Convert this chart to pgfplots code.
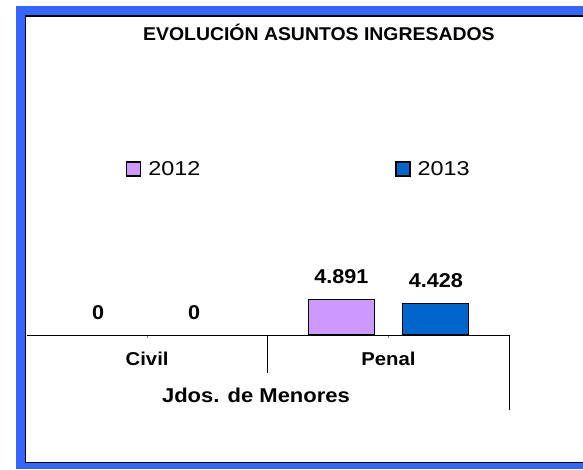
\documentclass[border=0pt]{standalone}
\usepackage{pgfplots}
\pgfplotsset{compat=1.18}
\usepackage{fontspec}
\setmainfont{Liberation Sans}
\newfontfamily\titlef[FakeStretch=1.05]{Liberation Sans}
\newfontfamily\legf[FakeStretch=1.17]{Liberation Sans}
\newfontfamily\labf[FakeStretch=1.08]{Liberation Sans}
\newfontfamily\catf[FakeStretch=1.09]{Liberation Sans}
\newfontfamily\grpf[FakeStretch=1.10]{Liberation Sans}
\definecolor{lilac}{HTML}{CC99FF}
\definecolor{barblue}{HTML}{0066CC}
\definecolor{frameblue}{HTML}{3366FF}
\begin{document}
\begin{tikzpicture}[x=1pt,y=1pt]
\path[use as bounding box] (0,0) rectangle (583,469);
\clip (0,0) rectangle (583,469);
\fill[frameblue] (16,0) rectangle (620,462.5);
\draw[fill=white, line width=1.3pt] (25.6,6.5) rectangle (640,453);
\begin{axis}[
  at={(26.5pt,134pt)}, anchor=south west,
  scale only axis, width=482.5pt, height=288pt,
  xmin=-0.5, xmax=1.5, ymin=0, ymax=40000,
  hide y axis, axis x line*=bottom,
  axis line style={line width=1pt, black},
  xtick={0,1}, xticklabels={Civil,Penal},
  tick align=inside, major tick length=3pt,
  xtick style={gray, line width=0.8pt},
  x tick label style={font=\catf\bfseries\fontsize{18.6}{20}\selectfont, anchor=base, yshift=-27pt},
  xlabel={Jdos. de Menores},
  xlabel style={at={(axis description cs:0.4756,0)}, anchor=base, yshift=-67pt, font=\grpf\bfseries\fontsize{20}{22}\selectfont},
  title={EVOLUCIÓN ASUNTOS INGRESADOS},
  title style={at={(axis description cs:0.606,1)}, anchor=base, yshift=1pt, font=\titlef\bfseries\fontsize{18.5}{20}\selectfont},
  ybar, bar width=66pt,
  nodes near coords,
  nodes near coords style={font=\labf\bfseries\fontsize{20}{22}\selectfont, anchor=south, yshift=15pt, inner sep=0pt, black},
  clip=false,
  legend columns=2,
  legend style={at={(axis description cs:0.2062,0.604)}, anchor=north west, draw=none, fill=none, inner sep=0pt,
    font=\legf\fontsize{20}{22}\selectfont, nodes={inner sep=0pt, yshift=7pt},
    /tikz/every odd column/.append style={column sep=7pt},
    /tikz/every even column/.append style={column sep=195pt}},
  /pgf/number format/1000 sep={.}, /pgf/number format/assume math mode=true,
]
\addplot[fill=lilac, draw=black, line width=1.2pt, bar shift=-47pt,
  legend image code/.code={\draw[fill=lilac,draw=black,line width=1.2pt] (0pt,0pt) rectangle (14pt,14pt);}]
  coordinates {(1,4891)};
\addlegendentry{2012}
\addplot[fill=barblue, draw=black, line width=1.2pt, bar shift=47.5pt,
  legend image code/.code={\draw[fill=barblue,draw=black,line width=1.2pt] (0pt,0pt) rectangle (14pt,14pt);}]
  coordinates {(1,4428)};
\addlegendentry{2013}
% Civil values (zero): no visible bar, label only
\addplot[draw=none, fill=none, bar shift=-49pt, forget plot] coordinates {(0,0)};
\addplot[draw=none, fill=none, bar shift=47pt, forget plot] coordinates {(0,0)};
\draw[line width=1pt] (axis cs:0.5,0) -- ++(0pt,-38pt);
\draw[line width=1pt] (axis cs:1.5,0) -- ++(0pt,-75pt);
\end{axis}
\end{tikzpicture}
\end{document}
